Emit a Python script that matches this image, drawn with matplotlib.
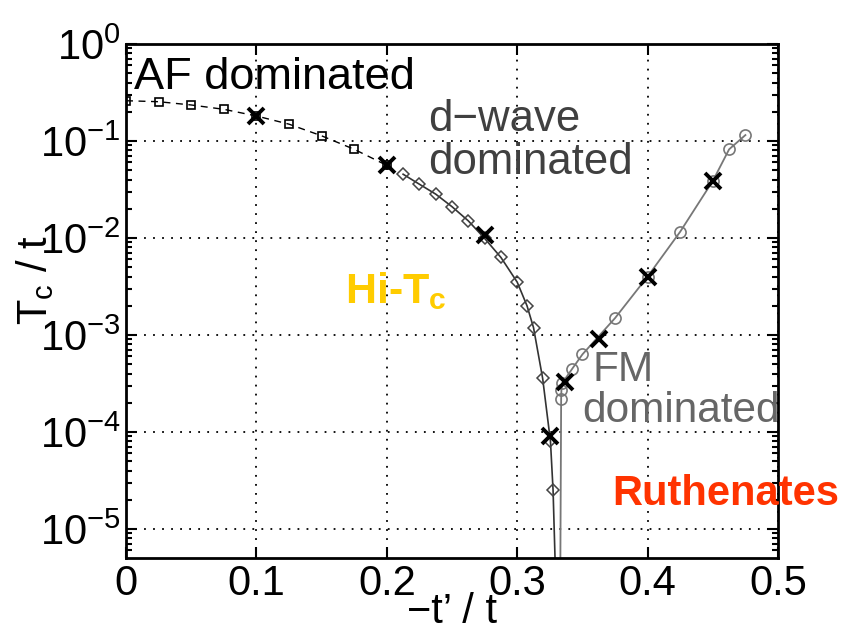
import matplotlib
matplotlib.use('Agg')
import matplotlib.pyplot as plt
from matplotlib.ticker import LogLocator, NullFormatter

plt.rcParams['font.family'] = ['Liberation Sans', 'DejaVu Sans']
plt.rcParams['mathtext.fontset'] = 'custom'
plt.rcParams['mathtext.rm'] = 'Liberation Sans'
plt.rcParams['mathtext.it'] = 'Liberation Sans'
plt.rcParams['mathtext.bf'] = 'Liberation Sans:bold'

# AF branch (squares, dashed)
af_x = [0.0, 0.025, 0.05, 0.075, 0.1, 0.125, 0.15, 0.175, 0.2]
af_tc = [0.26, 0.254, 0.235, 0.212, 0.181, 0.149, 0.113, 0.082, 0.056]

# d-wave branch (diamonds)
dw_x = [0.2125, 0.225, 0.2375, 0.25, 0.2625, 0.275, 0.2875, 0.3, 0.3075,
        0.3125, 0.3195, 0.3255, 0.3275, 0.3305]
dw_tc = [0.0454, 0.0358, 0.0283, 0.0210, 0.0150, 0.0099, 0.0063, 0.0035,
         0.0020, 0.00119, 0.000357, 8.0e-5, 2.5e-5, 1e-6]

# FM branch (circles)
fm_x = [0.3325, 0.3337, 0.3339, 0.3346, 0.3423, 0.35, 0.375, 0.4, 0.425,
        0.45, 0.4625, 0.475]
fm_tc = [1e-7, 2.2e-4, 2.7e-4, 3.2e-4, 4.5e-4, 6.3e-4, 1.49e-3, 4.0e-3,
         0.0116, 0.0387, 0.082, 0.115]

# exact results (crosses)
ex_x = [0.1, 0.2, 0.275, 0.325, 0.337, 0.3625, 0.4, 0.45]
ex_tc = [0.182, 0.0566, 0.0106, 9.1e-5, 3.25e-4, 9.1e-4, 4.0e-3, 0.0387]

fig = plt.figure(figsize=(8.43, 6.31), dpi=100)
ax = fig.add_axes([0.1495, 0.1157, 0.7734, 0.8146])

ax.semilogy(af_x, af_tc, color='black', linestyle='--', linewidth=1,
            marker='s', markersize=6, markerfacecolor='none',
            markeredgecolor='black', markeredgewidth=1.2, dashes=(5, 4))
ax.semilogy(dw_x, dw_tc, color='#333333', linewidth=1.2,
            marker='D', markersize=6, markerfacecolor='none',
            markeredgecolor='#444444', markeredgewidth=1.1)
ax.semilogy(fm_x, fm_tc, color='#777777', linewidth=1.3,
            marker='o', markersize=8, markerfacecolor='none',
            markeredgecolor='#777777', markeredgewidth=1.2)
ax.semilogy(ex_x, ex_tc, linestyle='none', marker='x', markersize=11,
            markeredgewidth=2.8, color='black')

ax.set_xlim(0, 0.5)
ax.set_ylim(10 ** -5.3, 1)
ax.set_xticks([0, 0.1, 0.2, 0.3, 0.4, 0.5])
ax.set_xticklabels(['0', '0.1', '0.2', '0.3', '0.4', '0.5'])
ax.yaxis.set_major_locator(LogLocator(base=10, numticks=10))
ax.yaxis.set_minor_locator(LogLocator(base=10, subs=range(2, 10), numticks=20))
ax.yaxis.set_minor_formatter(NullFormatter())

ax.tick_params(which='both', direction='in', top=True, right=True,
               labelsize=30, width=1.5)
ax.tick_params(which='major', length=8, pad=4)
ax.tick_params(which='minor', length=4)
for s in ax.spines.values():
    s.set_linewidth(2)

ax.grid(True, which='major', color='black', linestyle=(0, (1, 4)), linewidth=1.3)

ax.set_xlabel('\u2212t\u2019 / t', fontsize=30, labelpad=-8)
ax.set_ylabel('T$_\\mathregular{c}$ / t', fontsize=30)
ax.yaxis.set_label_coords(-0.108, 0.54)

ax.text(0.006, 0.45, 'AF dominated', fontsize=32.5, color='black',
        va='center', ha='left')
ax.text(0.232, 0.165, 'd\u2212wave', fontsize=31.5, color='#404040',
        va='center', ha='left')
ax.text(0.232, 0.06, 'dominated', fontsize=31.5, color='#404040',
        va='center', ha='left')
ax.text(0.168, 0.0028, 'Hi-T$_\\mathbf{c}$', fontsize=31, color='#FFCC00',
        fontweight='bold', va='center', ha='left')
ax.text(0.358, 4.3e-4, 'FM', fontsize=30.5, color='#666666',
        va='center', ha='left')
ax.text(0.350, 1.65e-4, 'dominated', fontsize=30.5, color='#666666',
        va='center', ha='left')
ax.text(0.3727, 2.3e-5, 'Ruthenates', fontsize=30, color='#FF3300',
        fontweight='bold', va='center', ha='left', clip_on=False)

fig.savefig('out.png', dpi=100)
